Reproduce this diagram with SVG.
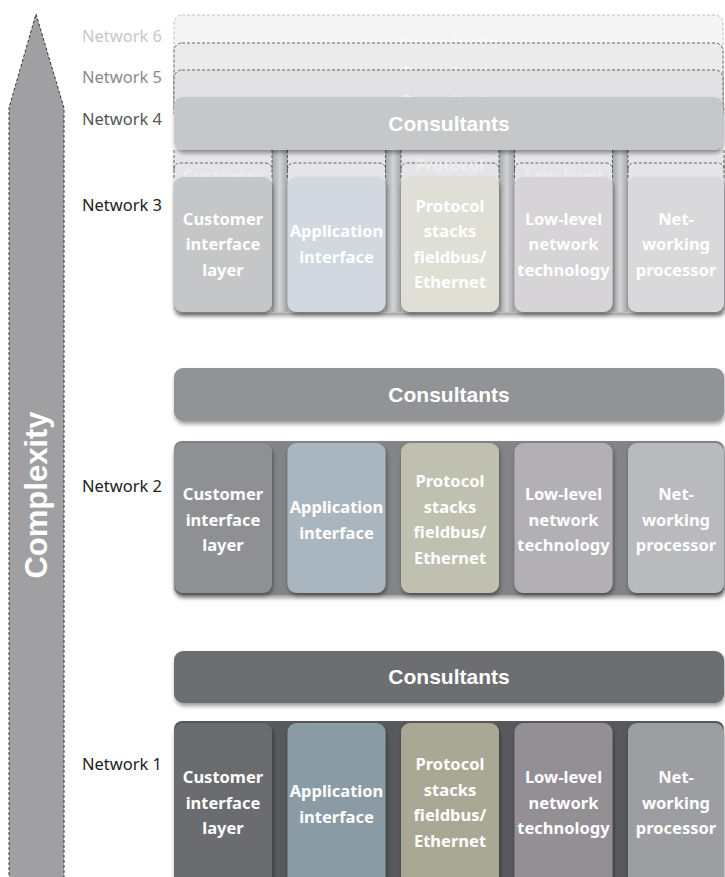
<svg xmlns="http://www.w3.org/2000/svg" width="725" height="877" viewBox="0 0 725 877">
<defs>
<filter id="sh" x="-10%" y="-10%" width="120%" height="130%">
<feDropShadow dx="1" dy="3" stdDeviation="2" flood-color="#000" flood-opacity="0.4"/>
</filter>
<linearGradient id="pil" x1="0" y1="0" x2="1" y2="0">
<stop offset="0" stop-color="#a4a5a7"/>
<stop offset="0.5" stop-color="#d2d3d5"/>
<stop offset="1" stop-color="#a4a5a7"/>
</linearGradient>
<style>
.lbl{font-family:"Noto Sans","Open Sans",sans-serif;font-size:16.5px;text-anchor:end}
.con{font-family:"Liberation Sans",Arial,sans-serif;font-weight:bold;font-size:21px;fill:#fff;text-anchor:middle}
.gcon{font-family:"Liberation Sans",Arial,sans-serif;font-weight:bold;font-size:17px;fill:#fff;text-anchor:middle;opacity:0.6}
.mod{font-family:"Noto Sans","Open Sans",sans-serif;font-weight:bold;font-size:16.5px;fill:#fff;text-anchor:middle}
.gmod{opacity:0.35}
.dash{fill:none;stroke:#555;stroke-width:0.9;stroke-dasharray:3 2}
</style>
</defs>

<g id="complexity-arrow">
<polygon points="36,14 64,108 64,880 9,880 9,108" fill="#a0a0a3" stroke="#333" stroke-width="1" stroke-dasharray="3 2"/>
<text transform="translate(47,495) rotate(-90)" font-family="Liberation Sans,Arial,sans-serif" font-weight="bold" font-size="31" fill="#fff" text-anchor="middle">Complexity</text>
</g>

<g id="labels">
<text class="lbl" x="162" y="42" fill="#c8c8c8">Network 6</text>
<text class="lbl" x="162" y="83" fill="#8a8a8a">Network 5</text>
<text class="lbl" x="162" y="125" fill="#555">Network 4</text>
<text class="lbl" x="162" y="211" fill="#222">Network 3</text>
<text class="lbl" x="162" y="492" fill="#222">Network 2</text>
<text class="lbl" x="162" y="770" fill="#222">Network 1</text>
</g>

<g id="ghost-networks">
<rect x="174" y="15" width="549" height="90" rx="8" fill="#f4f4f5" stroke="#b8b8b8" stroke-width="0.9" stroke-dasharray="3 2"/>
<text class="gcon" x="449" y="49">Consultants</text>
<rect x="174" y="43" width="549" height="70" rx="8" fill="#ebebec" stroke="#555" stroke-width="0.9" stroke-dasharray="3 2"/>
<text class="gcon" x="449" y="79">Consultants</text>
<rect x="174" y="70" width="549" height="50" rx="8" fill="#e2e2e4" stroke="#555" stroke-width="0.9" stroke-dasharray="3 2"/>
<text class="gcon" x="449" y="107">Consultants</text>
</g>

<g id="network3">
<rect x="174" y="150" width="550" height="163" rx="6" fill="#c0c1c3" filter="url(#sh)"/>
<rect x="174" y="150" width="98" height="32" fill="#e5e5e7"/>
<rect x="287.5" y="150" width="98" height="32" fill="#e5e5e7"/>
<rect x="401" y="150" width="98" height="32" fill="#e5e5e7"/>
<rect x="514.5" y="150" width="98" height="32" fill="#e5e5e7"/>
<rect x="628" y="150" width="96" height="32" fill="#e5e5e7"/>
<rect x="272" y="150" width="15.5" height="162" fill="url(#pil)"/>
<rect x="385.5" y="150" width="15.5" height="162" fill="url(#pil)"/>
<rect x="499" y="150" width="15.5" height="162" fill="url(#pil)"/>
<rect x="612.5" y="150" width="15.5" height="162" fill="url(#pil)"/>
<path class="dash" d="M174,150V180M272,150V180M174,170Q174,163 181,163H265Q272,163 272,170"/>
<path class="dash" d="M287.5,150V180M385.5,150V180M287.5,170Q287.5,163 294.5,163H378.5Q385.5,163 385.5,170"/>
<path class="dash" d="M401,150V180M499,150V180M401,170Q401,163 408,163H492Q499,163 499,170"/>
<path class="dash" d="M514.5,150V180M612.5,150V180M514.5,170Q514.5,163 521.5,163H605.5Q612.5,163 612.5,170"/>
<path class="dash" d="M628,150V180M724,150V180M628,170Q628,163 635,163H717Q724,163 724,170"/>
<text class="mod gmod" x="223" y="182">Customer</text>
<text class="mod gmod" x="450" y="171">Protocol</text>
<text class="mod gmod" x="563.5" y="182">Low-level</text>
<g id="n3-customer"><rect x="174" y="177" width="98" height="135" rx="9" fill="#c5c6c8" filter="url(#sh)"/>
<text class="mod" x="223" y="224.5">Customer<tspan x="223" dy="25.5">interface</tspan><tspan x="223" dy="25.5">layer</tspan></text></g>
<g id="n3-application"><rect x="287.5" y="177" width="98" height="135" rx="9" fill="#d1d8df" filter="url(#sh)"/>
<text class="mod" x="336.5" y="237">Application<tspan x="336.5" dy="25.5">interface</tspan></text></g>
<g id="n3-protocol"><rect x="401" y="177" width="98" height="135" rx="9" fill="#dfdfd6" filter="url(#sh)"/>
<text class="mod" x="450" y="211.5">Protocol<tspan x="450" dy="25.5">stacks</tspan><tspan x="450" dy="25.5">fieldbus/</tspan><tspan x="450" dy="25.5">Ethernet</tspan></text></g>
<g id="n3-lowlevel"><rect x="514.5" y="177" width="98" height="135" rx="9" fill="#d6d4d7" filter="url(#sh)"/>
<text class="mod" x="563.5" y="224.5">Low-level<tspan x="563.5" dy="25.5">network</tspan><tspan x="563.5" dy="25.5">technology</tspan></text></g>
<g id="n3-networking"><rect x="628" y="177" width="96" height="135" rx="9" fill="#d9d9db" filter="url(#sh)"/>
<text class="mod" x="676" y="224.5">Net-<tspan x="676" dy="25.5">working</tspan><tspan x="676" dy="25.5">processor</tspan></text></g>
</g>

<g id="n4-consultants">
<rect x="174" y="97" width="549" height="53" rx="9" fill="#c6c7c9" filter="url(#sh)"/>
<text class="con" x="449" y="131">Consultants</text>
</g>

<g id="n2-consultants">
<rect x="174" y="368" width="550" height="53" rx="9" fill="#929396" filter="url(#sh)"/>
<text class="con" x="449" y="401.5">Consultants</text>
</g>

<g id="network2">
<rect x="174" y="441" width="550" height="154" rx="8" fill="#838487" filter="url(#sh)"/>
<g id="n2-customer"><rect x="174" y="443" width="98" height="150" rx="9" fill="#8f9094" filter="url(#sh)"/>
<text class="mod" x="223" y="500">Customer<tspan x="223" dy="25.5">interface</tspan><tspan x="223" dy="25.5">layer</tspan></text></g>
<g id="n2-application"><rect x="287.5" y="443" width="98" height="150" rx="9" fill="#aab6bf" filter="url(#sh)"/>
<text class="mod" x="336.5" y="513">Application<tspan x="336.5" dy="25.5">interface</tspan></text></g>
<g id="n2-protocol"><rect x="401" y="443" width="98" height="150" rx="9" fill="#c0c0b0" filter="url(#sh)"/>
<text class="mod" x="450" y="487">Protocol<tspan x="450" dy="25.5">stacks</tspan><tspan x="450" dy="25.5">fieldbus/</tspan><tspan x="450" dy="25.5">Ethernet</tspan></text></g>
<g id="n2-lowlevel"><rect x="514.5" y="443" width="98" height="150" rx="9" fill="#b3b0b5" filter="url(#sh)"/>
<text class="mod" x="563.5" y="500">Low-level<tspan x="563.5" dy="25.5">network</tspan><tspan x="563.5" dy="25.5">technology</tspan></text></g>
<g id="n2-networking"><rect x="628" y="443" width="96" height="150" rx="9" fill="#b9babd" filter="url(#sh)"/>
<text class="mod" x="676" y="500">Net-<tspan x="676" dy="25.5">working</tspan><tspan x="676" dy="25.5">processor</tspan></text></g>
</g>

<g id="n1-consultants">
<rect x="174" y="651" width="550" height="52" rx="9" fill="#6d6e71" filter="url(#sh)"/>
<text class="con" x="449" y="684">Consultants</text>
</g>

<g id="network1">
<rect x="174" y="721" width="550" height="170" rx="8" fill="#58595c"/>
<g id="n1-customer"><rect x="174" y="723" width="98" height="165" rx="9" fill="#6b6c70" filter="url(#sh)"/>
<text class="mod" x="223" y="783">Customer<tspan x="223" dy="25.5">interface</tspan><tspan x="223" dy="25.5">layer</tspan></text></g>
<g id="n1-application"><rect x="287.5" y="723" width="98" height="165" rx="9" fill="#8a9ba5" filter="url(#sh)"/>
<text class="mod" x="336.5" y="797">Application<tspan x="336.5" dy="25.5">interface</tspan></text></g>
<g id="n1-protocol"><rect x="401" y="723" width="98" height="165" rx="9" fill="#a9a895" filter="url(#sh)"/>
<text class="mod" x="450" y="770">Protocol<tspan x="450" dy="25.5">stacks</tspan><tspan x="450" dy="25.5">fieldbus/</tspan><tspan x="450" dy="25.5">Ethernet</tspan></text></g>
<g id="n1-lowlevel"><rect x="514.5" y="723" width="98" height="165" rx="9" fill="#938f95" filter="url(#sh)"/>
<text class="mod" x="563.5" y="783">Low-level<tspan x="563.5" dy="25.5">network</tspan><tspan x="563.5" dy="25.5">technology</tspan></text></g>
<g id="n1-networking"><rect x="628" y="723" width="96" height="165" rx="9" fill="#9d9ea2" filter="url(#sh)"/>
<text class="mod" x="676" y="783">Net-<tspan x="676" dy="25.5">working</tspan><tspan x="676" dy="25.5">processor</tspan></text></g>
</g>

<g id="connectors"></g>
</svg>
